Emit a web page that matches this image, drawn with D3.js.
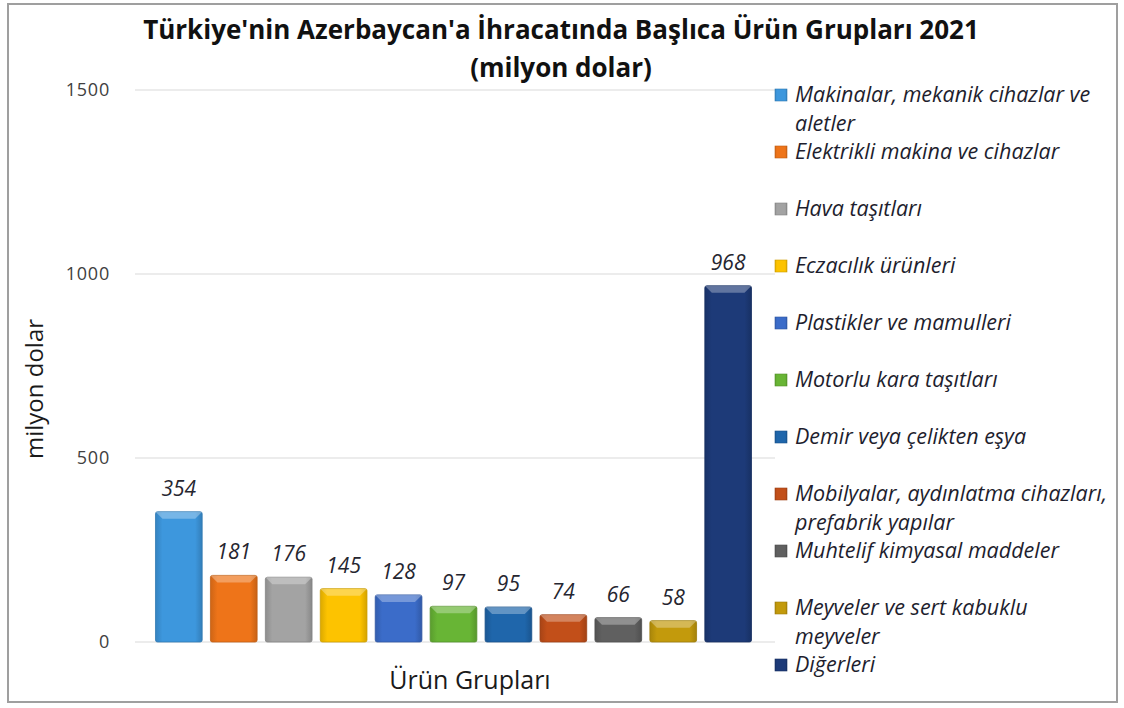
<!DOCTYPE html>
<html>
<head>
<meta charset="utf-8">
<script src="https://cdn.jsdelivr.net/npm/d3@7"></script>
<style>
	body { margin: 0; background: #fff; }
	svg { display: block; font-family: "Open Sans", "Noto Sans", sans-serif; }
</style>
</head>
<body>
<svg id="chart"></svg>
<script>
// ürün grupları ve değerleri (milyon dolar)
const categories = [
	"Makinalar, mekanik cihazlar ve aletler",
	"Elektrikli makina ve cihazlar",
	"Hava taşıtları",
	"Eczacılık ürünleri",
	"Plastikler ve mamulleri",
	"Motorlu kara taşıtları",
	"Demir veya çelikten eşya",
	"Mobilyalar, aydınlatma cihazları, prefabrik yapılar",
	"Muhtelif kimyasal maddeler",
	"Meyveler ve sert kabuklu meyveler",
	"Diğerleri"
];
const values = [354, 181, 176, 145, 128, 97, 95, 74, 66, 58, 968];
const colors = ["#3d97dd", "#ee7419", "#a3a3a3", "#fdc300", "#3b6cc9", "#68b535",
	"#1f66ab", "#c24f19", "#606060", "#c39a0c", "#1d3a78"];
// legend lines (wrapped like the original)
const legendLines = [
	["Makinalar, mekanik cihazlar ve", "aletler"],
	["Elektrikli makina ve cihazlar"],
	["Hava taşıtları"],
	["Eczacılık ürünleri"],
	["Plastikler ve mamulleri"],
	["Motorlu kara taşıtları"],
	["Demir veya çelikten eşya"],
	["Mobilyalar, aydınlatma cihazları,", "prefabrik yapılar"],
	["Muhtelif kimyasal maddeler"],
	["Meyveler ve sert kabuklu", "meyveler"],
	["Diğerleri"]
];
const yTicks = [0, 500, 1000, 1500];

const width = 1124, height = 708;
const svg = d3.select("#chart").attr("width", width).attr("height", height);

// outer frame
svg.append("rect")
	.attr("x", 8).attr("y", 4)
	.attr("width", 1109).attr("height", 698)
	.attr("fill", "#fff")
	.attr("stroke", "#9f9f9f")
	.attr("stroke-width", 2);

let x = d3.scaleBand()
	.domain(categories)
	.range([150, 757])
	.paddingInner(0.15)
	.paddingOuter(0.1);

let y = d3.scaleLinear()
	.domain([0, 1500])
	.range([642, 90]);

// gridlines
svg.append("g")
	.selectAll("line")
	.data(yTicks)
	.join("line")
	.attr("x1", 135)
	.attr("x2", 775)
	.attr("y1", d => y(d))
	.attr("y2", d => y(d))
	.attr("stroke", "#d9d9d9")
	.attr("stroke-width", 1.2);

// y axis labels
let yAxis = d3.axisLeft(y).tickValues(yTicks).tickFormat(d3.format("d")).tickSize(0).tickPadding(0);
let yg = svg.append("g")
	.attr("transform", "translate(110,0)")
	.call(yAxis);
yg.select(".domain").remove();
yg.selectAll("text")
	.attr("font-size", 18)
	.attr("letter-spacing", 0.8)
	.attr("fill", "#404040")
	.attr("font-family", "Open Sans, sans-serif");

// gradients for a bevelled look
let defs = svg.append("defs");
colors.forEach((c, i) => {
	let g = defs.append("linearGradient")
		.attr("id", "grad" + i)
		.attr("x1", "0").attr("x2", "1").attr("y1", "0").attr("y2", "0");
	g.append("stop").attr("offset", "0%").attr("stop-color", d3.color(c).darker(0.4));
	g.append("stop").attr("offset", "15%").attr("stop-color", c);
	g.append("stop").attr("offset", "85%").attr("stop-color", c);
	g.append("stop").attr("offset", "100%").attr("stop-color", d3.color(c).darker(0.5));
});

let bars = svg.append("g")
	.selectAll("g")
	.data(values)
	.join("g");

bars.append("rect")
	.attr("x", (d, i) => x(categories[i]))
	.attr("y", d => y(d))
	.attr("width", x.bandwidth())
	.attr("height", d => y(0) - y(d))
	.attr("rx", 2)
	.attr("fill", (d, i) => "url(#grad" + i + ")")
	.attr("stroke", (d, i) => d3.color(colors[i]).darker(0.6))
	.attr("stroke-width", 0.8);

// top bevel highlight
bars.append("path")
	.attr("d", (d, i) => {
		let x0 = x(categories[i]), w = x.bandwidth(), t = y(d), b = 7;
		return "M" + x0 + "," + t + "L" + (x0 + w) + "," + t +
			"L" + (x0 + w - b) + "," + (t + b) + "L" + (x0 + b) + "," + (t + b) + "Z";
	})
	.attr("fill", "#fff")
	.attr("opacity", 0.3);

// value labels
svg.append("g")
	.selectAll("text")
	.data(values)
	.join("text")
	.attr("x", (d, i) => x(categories[i]) + x.bandwidth() / 2)
	.attr("y", d => y(d) - 16)
	.attr("text-anchor", "middle")
	.attr("font-size", 21)
	.attr("font-style", "italic")
	.attr("fill", "#262630")
	.text(d => d);

// title
svg.append("text")
	.attr("x", 561).attr("y", 39)
	.attr("text-anchor", "middle")
	.attr("font-size", 26)
	.attr("font-weight", "bold")
	.attr("fill", "#111")
	.text("Türkiye'nin Azerbaycan'a İhracatında Başlıca Ürün Grupları 2021");
svg.append("text")
	.attr("x", 561).attr("y", 77)
	.attr("text-anchor", "middle")
	.attr("font-size", 26)
	.attr("font-weight", "bold")
	.attr("fill", "#111")
	.text("(milyon dolar)");

// axis titles
svg.append("text")
	.attr("transform", "translate(43,389) rotate(-90)")
	.attr("text-anchor", "middle")
	.attr("font-size", 24)
	.attr("fill", "#1a1a1a")
	.text("milyon dolar");

svg.append("text")
	.attr("x", 470).attr("y", 689)
	.attr("text-anchor", "middle")
	.attr("font-size", 25)
	.attr("fill", "#1a1a1a")
	.text("Ürün Grupları");

// legend
let legend = svg.append("g")
	.selectAll("g")
	.data(legendLines)
	.join("g")
	.attr("transform", (d, i) => "translate(775," + (95 + 57 * i) + ")");

legend.append("rect")
	.attr("x", 0).attr("y", -6)
	.attr("width", 12).attr("height", 12)
	.attr("fill", (d, i) => "url(#grad" + i + ")")
	.attr("stroke", (d, i) => d3.color(colors[i]).darker(0.6))
	.attr("stroke-width", 0.6);

legend.each(function(lines) {
	let g = d3.select(this);
	lines.forEach((t, j) => {
		g.append("text")
			.attr("x", 20)
			.attr("y", j * 28.5 + 7)
			.attr("font-size", 21.5)
			.attr("font-style", "italic")
			.attr("fill", "#1e1e2e")
			.text(t);
	});
});
</script>
</body>
</html>
